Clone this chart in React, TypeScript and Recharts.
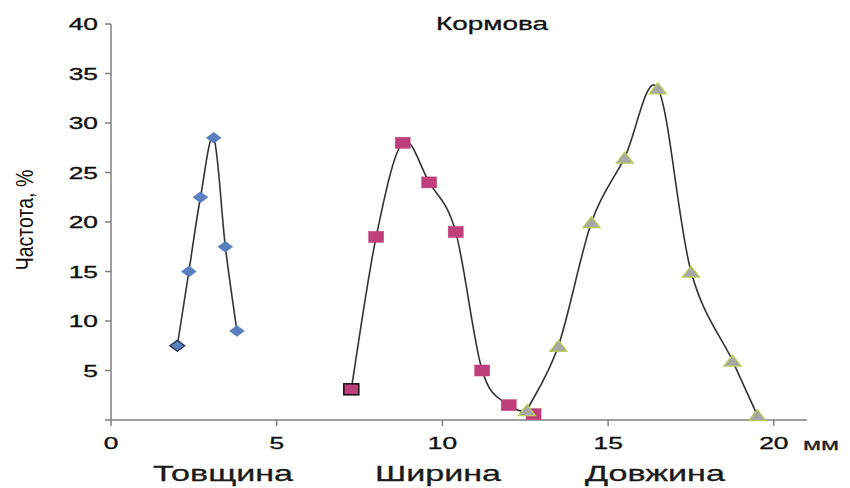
import { Line, LineChart, XAxis, YAxis } from "recharts";

// Товщина
const thicknessX = [2.0, 2.35, 2.7, 3.1, 3.45, 3.8];
const thicknessY = [7.5, 15, 22.5, 28.5, 17.5, 9];
// Ширина
const widthX = [7.25, 8.0, 8.8, 9.6, 10.4, 11.2, 12.0, 12.75];
const widthY = [3.1, 18.5, 28, 24, 19, 5, 1.5, 0.6];
// Довжина
const lengthX = [12.55, 13.5, 14.5, 15.5, 16.5, 17.5, 18.75, 19.5];
const lengthY = [1, 7.5, 20, 26.5, 33.5, 15, 6, 0.5];

const xTicks = [0, 5, 10, 15, 20];
const yTicks = [0, 5, 10, 15, 20, 25, 30, 35, 40];

const title = "Кормова";
const yTitle = "Частота, %";
const unit = "мм";
const groupLabels = ["Товщина", "Ширина", "Довжина"];

const zip = (xs: number[], ys: number[]) => xs.map((x, i) => ({ x, y: ys[i] }));

const thickness = zip(thicknessX, thicknessY);
const widthData = zip(widthX, widthY);
const lengthData = zip(lengthX, lengthY);

const FONT = "'Liberation Sans', Arial, sans-serif";
const S = 1.55; // picture is stretched sideways

// excel-like smoothing (cardinal spline)
function excelSmooth(context: any) {
  let pts: number[][] = [];
  return {
    areaStart() {},
    areaEnd() {},
    lineStart() {
      pts = [];
    },
    lineEnd() {
      if (!pts.length) return;
      context.moveTo(pts[0][0], pts[0][1]);
      const k = 1 / 6;
      for (let i = 0; i < pts.length - 1; i++) {
        const p0 = pts[i - 1] || pts[i];
        const p1 = pts[i];
        const p2 = pts[i + 1];
        const p3 = pts[i + 2] || p2;
        context.bezierCurveTo(
          p1[0] + (p2[0] - p0[0]) * k,
          p1[1] + (p2[1] - p0[1]) * k,
          p2[0] - (p3[0] - p1[0]) * k,
          p2[1] - (p3[1] - p1[1]) * k,
          p2[0],
          p2[1]
        );
      }
    },
    point(x: number, y: number) {
      pts.push([+x, +y]);
    },
  };
}

const Diamond = (p: any) => {
  const { cx, cy, index } = p;
  if (cx == null || cy == null) return null;
  return (
    <path
      key={`d${index}`}
      d={`M${cx - 7.5},${cy} L${cx},${cy - 5.5} L${cx + 7.5},${cy} L${cx},${cy + 5.5} Z`}
      fill="#5A7FBF"
      stroke={index === 0 ? "#1f2a3d" : "#5A7FBF"}
      strokeWidth={index === 0 ? 1.2 : 0.5}
    />
  );
};

const Square = (p: any) => {
  const { cx, cy, index } = p;
  if (cx == null || cy == null) return null;
  return (
    <rect
      key={`s${index}`}
      x={cx - 7.5}
      y={cy - 5.5}
      width={15}
      height={11}
      fill="#BF3F7D"
      stroke={index === 0 ? "#111" : "#BF3F7D"}
      strokeWidth={index === 0 ? 1.5 : 0.5}
    />
  );
};

const Triangle = (p: any) => {
  const { cx, cy, index } = p;
  if (cx == null || cy == null) return null;
  return (
    <path
      key={`t${index}`}
      d={`M${cx - 8.5},${cy + 5.5} L${cx},${cy - 5.5} L${cx + 8.5},${cy + 5.5} Z`}
      fill="#A7A7A7"
      stroke="#B8CC5A"
      strokeWidth={1.3}
    />
  );
};

const YTick = (p: any) => {
  const { x, y, payload } = p;
  if (payload.value === 0) return <g />;
  return (
    <text
      transform={`translate(${x} ${y}) scale(${S} 1)`}
      textAnchor="end"
      dy="0.36em"
      fontSize={17}
      fontFamily={FONT}
      fill="#111"
      stroke="#111"
      strokeWidth={0.35}
    >
      {payload.value}
    </text>
  );
};

const XTick = (p: any) => {
  const { x, y, payload } = p;
  return (
    <text
      transform={`translate(${x} ${y}) scale(${S} 1)`}
      textAnchor="middle"
      dy="0.71em"
      fontSize={17}
      fontFamily={FONT}
      fill="#111"
      stroke="#111"
      strokeWidth={0.35}
    >
      {payload.value}
    </text>
  );
};

export default function App() {
  return (
    <div style={{ position: "absolute", left: 0, top: 0, width: 850, height: 488, background: "#fff" }}>
      <LineChart
        width={850}
        height={488}
        margin={{ top: 24, right: 43, bottom: 38, left: 51 }}
      >
        <XAxis
          type="number"
          dataKey="x"
          domain={[0, 21]}
          ticks={xTicks}
          allowDataOverflow
          height={30}
          stroke="#7f7f7f"
          strokeWidth={1.5}
          tickSize={6}
          tickMargin={11}
          tick={<XTick />}
        />
        <YAxis
          type="number"
          dataKey="y"
          domain={[0, 40]}
          ticks={yTicks}
          width={60}
          stroke="#7f7f7f"
          strokeWidth={1.5}
          tickSize={6}
          tickMargin={7}
          tick={<YTick />}
        />
        <Line
          data={thickness}
          dataKey="y"
          type={excelSmooth as any}
          stroke="#333"
          strokeWidth={1.6}
          dot={Diamond}
          activeDot={false}
          isAnimationActive={false}
        />
        <Line
          data={widthData}
          dataKey="y"
          type={excelSmooth as any}
          stroke="#333"
          strokeWidth={1.6}
          dot={Square}
          activeDot={false}
          isAnimationActive={false}
        />
        <Line
          data={lengthData}
          dataKey="y"
          type={excelSmooth as any}
          stroke="#333"
          strokeWidth={1.6}
          dot={Triangle}
          activeDot={false}
          isAnimationActive={false}
        />
      </LineChart>
      <svg
        width={850}
        height={488}
        style={{ position: "absolute", left: 0, top: 0, pointerEvents: "none" }}
      >
        <text
          transform={`translate(492 30) scale(${S} 1)`}
          textAnchor="middle"
          fontSize={18}
          fontFamily={FONT}
          fill="#111"
          stroke="#111"
          strokeWidth={0.3}
        >
          {title}
        </text>
        <text
          transform={`translate(25 220) rotate(-90) scale(1.15 1.45)`}
          textAnchor="middle"
          dominantBaseline="central"
          fontSize={17}
          fontFamily={FONT}
          fill="#111"
        >
          {yTitle}
        </text>
        <text
          transform={`translate(803 450) scale(${S} 1)`}
          textAnchor="start"
          fontSize={17}
          fontFamily={FONT}
          fill="#222"
          stroke="#222"
          strokeWidth={0.3}
        >
          {unit}
        </text>
        {groupLabels.map((g, i) => (
          <text
            key={g}
            transform={`translate(${[223, 438, 655][i]} 481) scale(1.55 1)`}
            textAnchor="middle"
            fontSize={22}
            fontFamily={FONT}
            fill="#1a1a1a"
            stroke="#1a1a1a"
            strokeWidth={0.3}
          >
            {g}
          </text>
        ))}
      </svg>
    </div>
  );
}
